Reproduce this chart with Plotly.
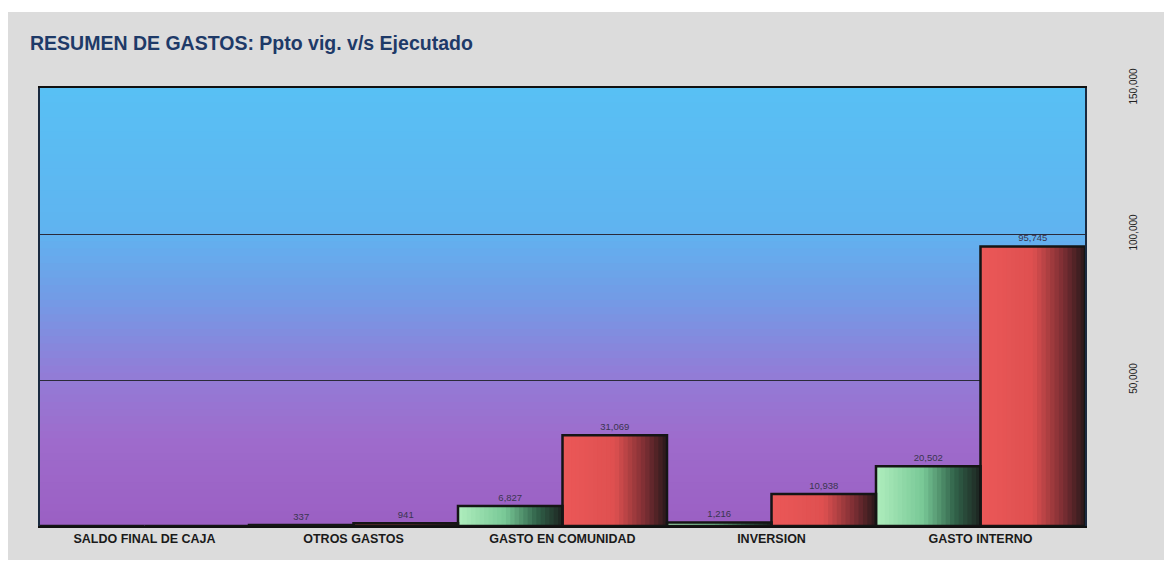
import plotly.graph_objects as go

categories = ["SALDO FINAL DE CAJA", "OTROS GASTOS", "GASTO EN COMUNIDAD", "INVERSION", "GASTO INTERNO"]
ejecutado = [0, 337, 6827, 1216, 20502]
ppto_vig = [0, 941, 31069, 10938, 95745]
y_ticks = [50000, 100000, 150000]
y_ticktext = ["50,000", "100,000", "150,000"]

# layout geometry (pixels); page body has an 8px margin
OFF = 8
W, H = 1172 - OFF, 569 - OFF
L, R, T, B = 40 - OFF, 87, 88 - OFF, 43
pw, ph = W - L - R, H - T - B


def lerp(c1, c2, t):
    return tuple(int(round(a + (b - a) * t)) for a, b in zip(c1, c2))


def grad(stops, t):
    for i in range(len(stops) - 1):
        t0, c0 = stops[i]
        t1, c1 = stops[i + 1]
        if t0 <= t <= t1:
            return lerp(c0, c1, (t - t0) / (t1 - t0) if t1 > t0 else 0)
    return stops[-1][1]


def rgb(c):
    return "rgb(%d,%d,%d)" % c


green_stops = [(0, (176, 238, 190)), (0.45, (120, 200, 150)), (0.75, (50, 100, 75)), (1, (28, 36, 32))]
red_stops = [(0, (236, 88, 88)), (0.5, (222, 80, 80)), (0.8, (120, 45, 50)), (1, (40, 24, 26))]
bg_stops = [(0, (155, 95, 195)), (0.2, (158, 108, 204)), (0.35, (145, 125, 215)),
            (0.52, (115, 155, 230)), (0.68, (95, 180, 240)), (1, (88, 192, 244))]

fig = go.Figure()

N = 24
half = 0.5
for series, stops, base in [(ejecutado, green_stops, -0.5), (ppto_vig, red_stops, 0.0)]:
    for k in range(N):
        t = (k + 0.5) / N
        wk = half / N * (1.6 if k < N - 1 else 1.0)
        fig.add_trace(go.Bar(
            x=categories, y=series,
            offset=base + k * half / N, width=wk,
            marker=dict(color=rgb(grad(stops, t)), line=dict(width=0)),
            showlegend=False, hoverinfo="skip",
        ))

for name, series, base in [("Ejecutado", ejecutado, -0.5), ("Ppto vig.", ppto_vig, 0.0)]:
    fig.add_trace(go.Bar(
        x=categories, y=series, name=name,
        offset=base, width=half,
        marker=dict(color="rgba(0,0,0,0)", line=dict(color="#151515", width=2.5)),
        text=[f"{v:,}" if v else "" for v in series],
        textposition="outside", cliponaxis=False,
        textfont=dict(family="Liberation Sans", size=9.5, color="#3a3550"),
        showlegend=False,
    ))

shapes = []
# marble-like page panel
shapes.append(dict(type="rect", xref="paper", yref="paper",
                   x0=(0 - L) / pw, x1=(W - L + 5) / pw,
                   y0=(H - B - (560 - OFF)) / ph, y1=(H - B - (12 - OFF)) / ph,
                   fillcolor="#dcdcdc", line=dict(width=0), layer="below"))
# gradient plot background
S = 60
for i in range(S):
    t = (i + 0.5) / S
    shapes.append(dict(type="rect", xref="paper", yref="paper",
                       x0=0, x1=1, y0=i / S, y1=(i + 1) / S + 0.002,
                       fillcolor=rgb(grad(bg_stops, t)), line=dict(width=0), layer="below"))

fig.update_layout(
    width=W, height=H,
    margin=dict(l=L, r=R, t=T, b=B, autoexpand=False),
    paper_bgcolor="white", plot_bgcolor="rgba(0,0,0,0)",
    barmode="overlay",
    shapes=shapes,
    title=dict(text="<b>RESUMEN DE GASTOS: Ppto vig. v/s Ejecutado</b>",
               x=(30 - OFF) / W, xanchor="left", y=1 - (43 - OFF) / H, yanchor="middle",
               font=dict(family="Liberation Sans", size=19.5, color="#1e3a68")),
    xaxis=dict(
        showgrid=False, showline=True, linecolor="#111", linewidth=2, mirror=True,
        tickfont=dict(family="Liberation Sans", size=12.5, color="#1a1a1a", weight="bold"),
        ticks="", fixedrange=True, automargin=False,
    ),
    yaxis=dict(
        range=[0, 150000], side="right",
        tickvals=y_ticks, ticktext=y_ticktext, tickangle=-90,
        ticklabelstandoff=38,
        tickfont=dict(family="Liberation Sans", size=10, color="#222"),
        showgrid=True, gridcolor="#2a2a3a", gridwidth=1,
        showline=True, linecolor="#1a2a40", linewidth=2, mirror=True,
        zeroline=False, ticks="", automargin=False,
    ),
)

fig.write_html("out.html")
